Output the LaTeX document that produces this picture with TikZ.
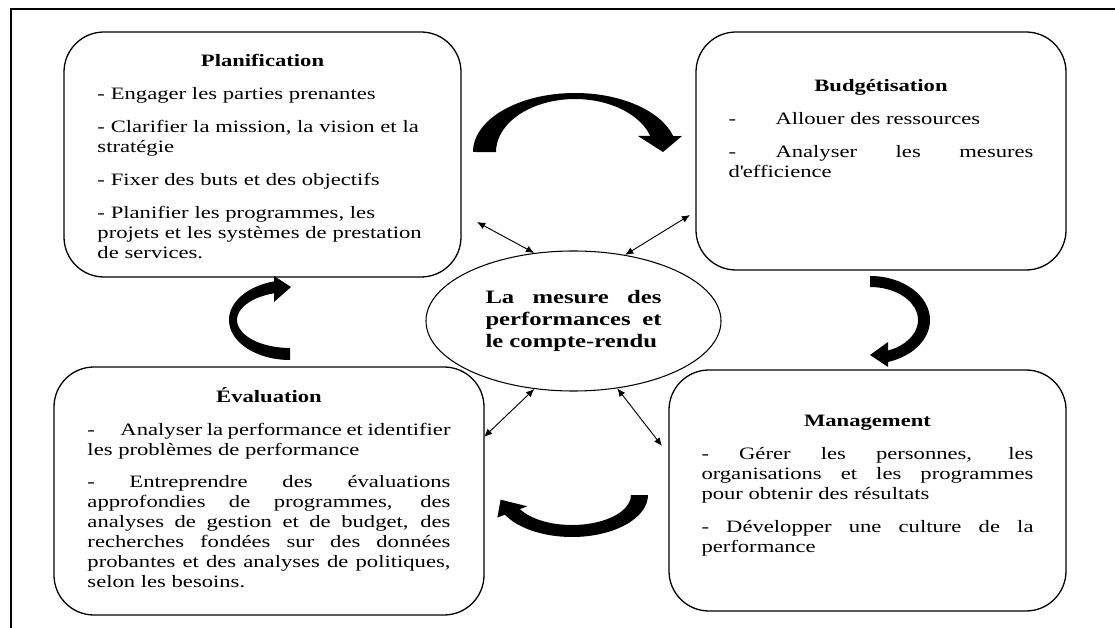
\documentclass[tikz,border=0pt]{standalone}
\usepackage{fontspec}
\setmainfont{Liberation Serif}[FakeStretch=1.3]
\usetikzlibrary{positioning,shapes.geometric,arrows.meta}

\begin{document}
\begin{tikzpicture}[x=0.03cm,y=0.03cm,
		etape/.style={draw,line width=1.1pt,rounded corners=1.2cm,inner sep=0pt,outer sep=0pt},
		texte/.style={inner sep=0pt,font=\fontsize{14.85}{17.07}\selectfont,
			execute at begin node={\setlength{\parindent}{0pt}\setlength{\parskip}{11pt}\hyphenpenalty=10000}},
		fleche/.style={{Latex[length=7pt,width=6pt]}-{Latex[length=7pt,width=6pt]},line width=0.8pt}]
	\useasboundingbox (0,0) rectangle (1115,-628);
	\draw[line width=1.8pt] (11,-628) -- (11,-9) -- (1115,-9);
	% les quatre etapes
	\node[etape,minimum width=11.91cm,minimum height=7.35cm] (plan) at (262.5,-154.5) {};
	\node[etape,minimum width=11.1cm,minimum height=7.14cm] (budget) at (881,-151) {};
	\node[etape,minimum width=12.9cm,minimum height=7.44cm] (eval) at (269,-491) {};
	\node[etape,minimum width=11.91cm,minimum height=7.23cm] (manag) at (867.5,-490.5) {};
	\node[draw,ellipse,line width=0.9pt,minimum width=8.85cm,minimum height=4.2cm,inner sep=0pt,
		text width=5.28cm,align=justify,font=\bfseries\fontsize{16.2}{18.8}\selectfont] (mesure) at (573.5,-321)
		{La mesure des\linebreak performances et\linebreak le compte-rendu};
	% textes
	\node[texte,text width=9.9cm,align=left,anchor=north,below=0.66cm of plan.north] (planT) {%
		{\centering\bfseries Planification\par}
		- Engager les parties prenantes\par
		- Clarifier la mission, la vision et la\\ stratégie\par
		- Fixer des buts et des objectifs\par
		- Planifier les programmes, les\\ projets et les systèmes de prestation\\ de services.};
	\node[texte,text width=9.15cm,align=justify,below=1.41cm of budget.north] (budgetT) {%
		{\centering\bfseries Budgétisation\par}
		\makebox[1.41cm][l]{-}Allouer des ressources\par
		\makebox[1.41cm][l]{-}Analyser les mesures\linebreak d\textquotesingle efficience};
	\node[texte,text width=10.89cm,align=justify,below=0.6cm of eval.north] (evalT) {%
		{\centering\bfseries Évaluation\par}
		\makebox[0.99cm][l]{-}Analyser la performance et identifier\linebreak les problèmes de performance\par
		\makebox[1.26cm][l]{-}Entreprendre des évaluations\linebreak approfondies de programmes, des\linebreak
		analyses de gestion et de budget, des\linebreak recherches fondées sur des données\linebreak
		probantes et des analyses de politiques,\linebreak selon les besoins.};
	\node[texte,text width=9.96cm,align=justify,below=1.35cm of manag.north] (managT) {%
		{\centering\bfseries Management\par}
		- Gérer les personnes, les\linebreak organisations et les programmes\linebreak pour obtenir des résultats\par
		- Développer une culture de la\linebreak performance};
	% liens avec la mesure
	\draw[fleche] ([shift={(16,-67.5)}]plan.east) -- (mesure.120);
	\draw[fleche] ([shift={(-6,-64)}]budget.west) -- (mesure.52);
	\draw[fleche] (mesure.240) -- ([shift={(0,54)}]eval.east);
	\draw[fleche] (mesure.303) -- ([shift={(-7,44.5)}]manag.west);
	% grosses fleches du cycle
	\fill (473,-152) arc[start angle=180,end angle=15.7,x radius=102,y radius=59] -- (682,-136) -- (663,-152)
		-- (638,-136) -- (650.3,-136) arc[start angle=17.6,end angle=180,x radius=79,y radius=53] -- cycle;
	\fill (870,-276) arc[start angle=90,end angle=-72.5,x radius=60,y radius=44] -- (888,-367) -- (870,-355)
		-- (888,-342) -- (888,-350.6) arc[start angle=-68,end angle=90,x radius=48,y radius=33] -- cycle;
	\fill (648,-495) arc[start angle=0,end angle=-152,x radius=76,y radius=42] -- (497.4,-517.5) -- (500.6,-499.7)
		-- (527.4,-506.3) -- (519.9,-509.1) arc[start angle=-152,end angle=0,x radius=59,y radius=30] -- cycle;
	\fill (290,-360) arc[start angle=270,end angle=105.2,x radius=61,y radius=40] -- (274,-276) -- (291,-287)
		-- (274,-302) -- (274,-293.3) arc[start angle=107.6,end angle=270,x radius=53,y radius=28] -- cycle;
\end{tikzpicture}
\end{document}
